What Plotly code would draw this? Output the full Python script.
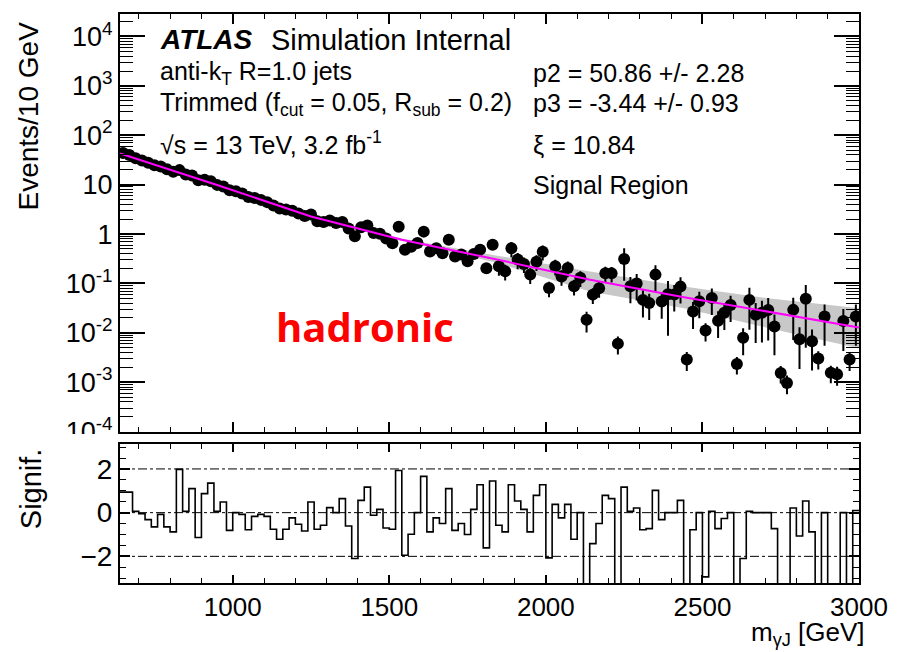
import numpy as np
import plotly.graph_objects as go

# Binning of the photon + large-R jet invariant mass spectrum
bin_lo, bin_width, n_bins = 640, 20, 118
edges = bin_lo + bin_width * np.arange(n_bins + 1)
mass = edges[:-1] + bin_width / 2

events = [43.9, 39.8, 34.4, 31.0, 27.8, 24.8, 23.3, 20.5, 18.3, 19.7,
          16.0, 15.4, 12.3, 12.6, 11.7, 9.9, 9.2, 7.74, 7.35, 6.62,
          5.62, 5.38, 4.92, 4.43, 3.80, 3.30, 3.13, 2.96, 2.62, 2.31,
          2.48, 1.82, 1.75, 1.88, 1.67, 1.75, 1.29, 0.906, 1.38, 1.49,
          1.045, 1.02, 0.81, 0.649, 1.41, 0.479, 0.555, 0.656, 1.12, 0.442,
          0.519, 0.410, 0.769, 0.351, 0.384, 0.281, 0.395, 0.484, 0.204, 0.607,
          0.222, 0.177, 0.514, 0.305, 0.249, 0.151, 0.276, 0.44, 0.0805, 0.223,
          0.138, 0.206, 0.0881, 0.131, 0.0185, 0.0594, 0.0796, 0.161, 0.160, 0.00605,
          0.314, 0.0879, 0.100, 0.0465, 0.0401, 0.151, 0.0433, 0.0607, 0.060, 0.0863,
          0.00288, 0.0270, 0.0437, 0.0112, 0.0509, 0.0176, 0.0254, 0.0365, 0.00234, 0.00793,
          0.0465, 0.0232, 0.0254, 0.0290, 0.0135, 0.00154, 0.00097, 0.0292, 0.00745, 0.0490,
          0.00673, 0.00302, 0.0215, 0.00155, 0.00145, 0.0173, 0.00288, 0.0215]

events_err = [1.76, 1.59, 1.38, 1.24, 1.11, 0.99, 0.93, 0.82, 0.73, 0.79,
              0.64, 0.62, 0.49, 0.50, 0.47, 0.40, 0.37, 0.31, 0.29, 0.26,
              0.39, 0.38, 0.34, 0.31, 0.27, 0.23, 0.22, 0.21, 0.18, 0.16,
              0.30, 0.22, 0.21, 0.23, 0.20, 0.21, 0.15, 0.11, 0.17, 0.18,
              0.13, 0.12, 0.10, 0.078, 0.28, 0.096, 0.11, 0.13, 0.22, 0.088,
              0.10, 0.082, 0.15, 0.070, 0.077, 0.056, 0.079, 0.097, 0.041, 0.12,
              0.078, 0.062, 0.18, 0.11, 0.087, 0.053, 0.097, 0.15, 0.028, 0.078,
              0.048, 0.072, 0.031, 0.046, 0.0083, 0.021, 0.028, 0.056, 0.056, 0.0024,
              0.20, 0.048, 0.055, 0.026, 0.022, 0.083, 0.024, 0.052, 0.033, 0.047,
              0.0012, 0.015, 0.024, 0.0045, 0.028, 0.0097, 0.014, 0.020, 0.0009, 0.0044,
              0.035, 0.017, 0.019, 0.022, 0.010, 0.0006, 0.0004, 0.022, 0.0056, 0.044,
              0.0050, 0.0012, 0.016, 0.0006, 0.0006, 0.013, 0.0012, 0.016]

# Bin-by-bin significance of data relative to the fit (values below -3 run off the pad)
signif = [0.94, 0.94, 0.06, -0.05, -0.32, -0.65, -0.08, -0.65, -0.88, 1.98,
          0.06, 1.10, -1.14, 0.87, 1.35, 0.06, 0.49, -0.81, 0.0, -0.08,
          -0.78, -0.17, -0.08, -0.17, -0.76, -1.22, -0.76, -0.24, -0.53, -0.84,
          0.49, -0.76, -0.58, 0.23, 0.0, 0.64, -0.61, -2.10, 0.56, 1.17,
          -0.12, 0.15, -0.70, -0.76, 1.93, -1.95, -0.99, 0.0, 1.66, -0.88,
          -0.24, -0.50, 1.10, -0.81, -0.50, -1.00, 0.15, 1.28, -1.61, 1.45,
          -0.58, -0.88, 1.28, 0.53, 0.15, -0.88, 0.79, 1.28, -2.07, 0.38,
          -0.24, 0.38, -1.22, 0.0, -4.0, -1.42, -0.50, 0.79, 0.64, -4.0,
          1.17, 0.06, 0.21, -0.78, -0.73, 1.02, -0.32, 0.0, 0.0, 0.56,
          -4.0, -0.78, 0.0, -2.94, 0.06, -0.73, -0.27, 0.0, -4.0, -2.10,
          0.06, 0.0, 0.0, 0.0, -0.73, -4.0, -4.0, 0.21, -1.07, 0.53,
          -0.88, -4.0, 0.0, -4.0, -4.0, 0.0, -4.0, 0.10]

# Background fit and its uncertainty band
fit_mass = [640, 950, 1250, 1540, 1840, 2141, 2441, 2709, 3000]
fit_events = [43.0, 9.86, 2.26, 0.764, 0.309, 0.119, 0.0528, 0.0272, 0.0129]
band_mass = [640, 950, 1250, 1540, 1840, 2141, 2441, 2709, 3000]
band_lo = [39.0, 9.4, 2.12, 0.72, 0.265, 0.069, 0.0316, 0.0126, 0.0049]
band_hi = [45.0, 10.4, 2.42, 0.81, 0.37, 0.174, 0.087, 0.050, 0.0316]

decades = list(range(-4, 5))
dec_text = ["10<sup>-4</sup>", "10<sup>-3</sup>", "10<sup>-2</sup>", "10<sup>-1</sup>",
            "1", "10", "10<sup>2</sup>", "10<sup>3</sup>", "10<sup>4</sup>"]

FONT = "Liberation Sans, Arial, Helvetica, sans-serif"

fig = go.Figure()

fig.add_trace(go.Scatter(x=band_mass, y=band_lo, mode="lines", line=dict(width=0),
                         hoverinfo="skip", showlegend=False, xaxis="x", yaxis="y"))
fig.add_trace(go.Scatter(x=band_mass, y=band_hi, mode="lines", line=dict(width=0),
                         fill="tonexty", fillcolor="#c8c8c8", hoverinfo="skip",
                         showlegend=False, xaxis="x", yaxis="y"))
fig.add_trace(go.Scatter(x=mass, y=events, mode="markers",
                         marker=dict(color="black", size=12, symbol="circle"),
                         error_y=dict(type="data", array=events_err, color="black",
                                      thickness=2, width=0),
                         showlegend=False, xaxis="x", yaxis="y"))
fig.add_trace(go.Scatter(x=fit_mass, y=fit_events, mode="lines",
                         line=dict(color="#ff00ff", width=2),
                         showlegend=False, xaxis="x", yaxis="y"))

fig.add_trace(go.Scatter(x=edges, y=signif + [signif[-1]], mode="lines",
                         line=dict(color="black", width=1.6, shape="hv"),
                         showlegend=False, xaxis="x2", yaxis="y2"))

for lvl in (-2, 0, 2):
    fig.add_shape(type="line", xref="x2", yref="y2", x0=bin_lo, x1=edges[-1],
                  y0=lvl, y1=lvl, line=dict(color="black", width=1, dash="dashdot"),
                  layer="below")

axis_common = dict(showgrid=False, zeroline=False, showline=True, linecolor="black",
                   linewidth=2, mirror="allticks", ticks="inside", tickcolor="black")

fig.update_layout(
    width=900, height=652,
    margin=dict(l=120, r=34, t=12, b=69),
    paper_bgcolor="white", plot_bgcolor="white",
    font=dict(family=FONT, color="black"),
    xaxis=dict(domain=[0, 1], range=[640, 3000], anchor="y", matches="x2",
               showticklabels=False, tick0=0, dtick=500, ticklen=10, tickwidth=1.5,
               minor=dict(ticks="inside", dtick=100, tick0=0, ticklen=5, tickwidth=1,
                          tickcolor="black"),
               **axis_common),
    yaxis=dict(domain=[0.266, 1], type="log", range=[-4, 4.455], anchor="x",
               tickmode="array", tickvals=[10.0 ** d for d in decades], ticktext=dec_text,
               ticklen=25, tickwidth=1.5, tickfont=dict(size=27),
               minor=dict(ticks="inside", ticklen=13, tickwidth=1, tickcolor="black",
                          tickmode="array",
                          tickvals=[k * 10.0 ** d for d in range(-4, 5) for k in range(2, 10)]),
               **axis_common),
    xaxis2=dict(domain=[0, 1], range=[640, 3000], anchor="y2",
                tick0=0, dtick=500, ticklen=8, tickwidth=1.5, tickfont=dict(size=26),
                minor=dict(ticks="inside", dtick=100, tick0=0, ticklen=5, tickwidth=1,
                           tickcolor="black"),
                **axis_common),
    yaxis2=dict(domain=[0, 0.245], range=[-3.22, 3.16], anchor="x2",
                tickmode="array", tickvals=[-2, 0, 2], ticktext=["\u22122", "0", "2"],
                ticklen=10, tickwidth=1.5, tickfont=dict(size=28),
                minor=dict(ticks="inside", dtick=0.5, tick0=0, ticklen=6, tickwidth=1,
                           tickcolor="black"),
                **axis_common),
)

# Hide the lower half of the bottom decade label where the two pads meet
fig.add_shape(type="rect", xref="paper", yref="paper", x0=-0.16, x1=-0.004,
              y0=0.247, y1=0.262, fillcolor="white", line=dict(width=0), layer="above")


def px_x(p):
    return (p - 120) / 746.0


def px_y(p):
    return (583 - p) / 571.0


def label(text, x, y, size=25, **kw):
    fig.add_annotation(text=text, x=px_x(x), y=px_y(y), xref="paper", yref="paper",
                       showarrow=False, xanchor=kw.pop("xanchor", "left"),
                       yanchor=kw.pop("yanchor", "middle"),
                       font=dict(size=size, family=kw.pop("family", FONT),
                                 color=kw.pop("color", "black")), **kw)


label("<b><i>ATLAS</i></b>", 158, 38, size=28)
label("Simulation Internal", 270, 38, size=29)
label("anti-k<sub>T</sub> R=1.0 jets", 158, 71)
label("Trimmed (f<sub>cut</sub> = 0.05, R<sub>sub</sub> = 0.2)", 158, 102)
label("\u221as = 13 TeV, 3.2 fb<sup>-1</sup>", 158, 141)
label("p2 = 50.86 +/- 2.28", 535, 71)
label("p3 = -3.44 +/- 0.93", 535, 101)
label("\u03be = 10.84", 535, 143)
label("Signal Region", 535, 184)
label("<b>hadronic</b>", 367, 326, size=40, xanchor="center",
      family="Open Sans, Noto Sans, sans-serif", color="#ff0000")

label("Events/10 GeV", 28, 114, size=28, xanchor="center", textangle=-90)
label("Signif.", 30, 488, size=29, xanchor="center", textangle=-90)
label("m<sub>\u03b3J</sub> [GeV]", 873, 634, size=26, xanchor="right", borderpad=0)

fig.write_html("out.html")
